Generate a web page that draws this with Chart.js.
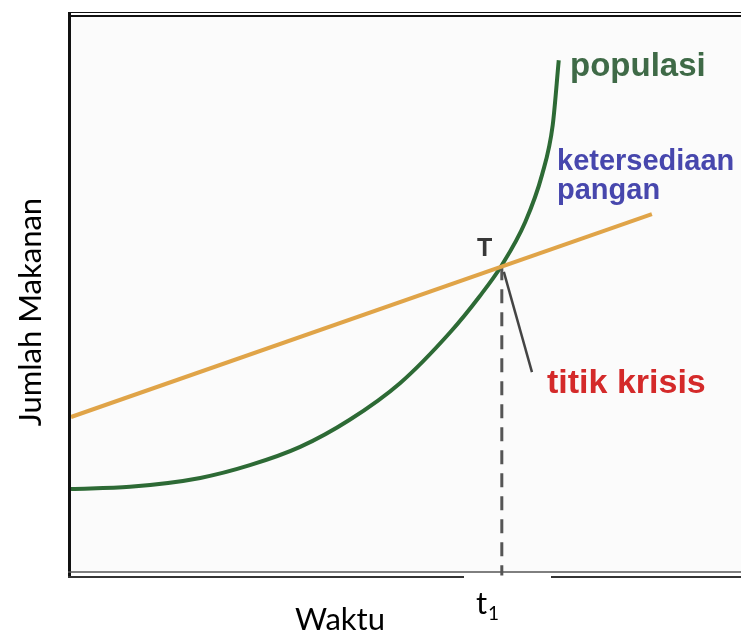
<!DOCTYPE html>
<html>
<head>
<meta charset="utf-8">
<script src="https://cdn.jsdelivr.net/npm/chart.js@4"></script>
<style>
  html, body { margin: 0; padding: 0; background: #fff; }
  #wrap { width: 741px; height: 637px; }
</style>
</head>
<body>
<div id="wrap"><canvas id="chart" width="741" height="637"></canvas></div>
<script>
// kurva populasi (waktu, jumlah)
const popX = [0, 8.8, 19.3, 26.7, 34.2, 41.6, 49.1, 56.6, 61.0, 64.3, 67.8, 70.3, 71.9, 72.8];
const popY = [14.8, 15.2, 16.8, 19.1, 22.4, 27.3, 33.9, 43.1, 49.6, 55.2, 63.0, 71.5, 80.5, 92.2];

// ketersediaan pangan (garis lurus)
const foodX = [0, 86.7];
const foodY = [27.8, 64.4];

// titik krisis T dan garis penunjuk
const crisisX = [64.3, 64.3];
const crisisY = [55, -0.8];
const pointerX = [64.6, 68.8];
const pointerY = [54, 35.9];

const toPoints = (xs, ys) => xs.map((x, i) => ({x: x, y: ys[i]}));

// gambar bingkai, label dan judul sumbu
const decor = {
  id: 'decor',
  beforeDraw(chart) {
    const {ctx, chartArea: a} = chart;
    ctx.save();
    ctx.fillStyle = '#fbfbfb';
    ctx.fillRect(a.left, a.top, a.right - a.left, a.bottom - a.top);
    ctx.restore();
  },
  afterDatasetsDraw(chart) {
    const {ctx} = chart;
    ctx.save();
    // bingkai atas
    ctx.strokeStyle = '#111';
    ctx.lineWidth = 1;
    ctx.beginPath(); ctx.moveTo(69, 12.5); ctx.lineTo(741, 12.5); ctx.stroke();
    ctx.lineWidth = 2;
    ctx.beginPath(); ctx.moveTo(69, 16); ctx.lineTo(741, 16); ctx.stroke();
    // sumbu kiri
    ctx.lineWidth = 3;
    ctx.beginPath(); ctx.moveTo(69.5, 12); ctx.lineTo(69.5, 578); ctx.stroke();
    // sumbu bawah (dua garis)
    ctx.strokeStyle = '#555';
    ctx.lineWidth = 1.5;
    ctx.beginPath(); ctx.moveTo(68, 572); ctx.lineTo(741, 572); ctx.stroke();
    ctx.strokeStyle = '#333';
    ctx.lineWidth = 2;
    ctx.beginPath(); ctx.moveTo(68, 577); ctx.lineTo(464, 577); ctx.moveTo(551, 577); ctx.lineTo(741, 577); ctx.stroke();

    // label kurva
    ctx.textBaseline = 'alphabetic';
    ctx.textAlign = 'left';
    ctx.fillStyle = '#3f6a47';
    ctx.font = 'bold 33px "Liberation Sans", Arial, sans-serif';
    ctx.fillText('populasi', 570, 76);
    ctx.fillStyle = '#4747ad';
    ctx.font = 'bold 29px "Liberation Sans", Arial, sans-serif';
    ctx.fillText('ketersediaan', 557, 170);
    ctx.fillText('pangan', 557, 199);
    ctx.fillStyle = '#383838';
    ctx.font = 'bold 25px "Liberation Sans", Arial, sans-serif';
    ctx.fillText('T', 477, 256);
    ctx.fillStyle = '#d42a2a';
    ctx.font = 'bold 34px "Liberation Sans", Arial, sans-serif';
    ctx.fillText('titik krisis', 547, 393);

    // judul sumbu
    ctx.fillStyle = '#000';
    ctx.font = '31px Lato, "Open Sans", sans-serif';
    ctx.textAlign = 'center';
    ctx.fillText('Waktu', 340, 630);
    ctx.textAlign = 'left';
    ctx.fillText('t', 476, 614);
    ctx.font = '19px Lato, "Open Sans", sans-serif';
    ctx.fillText('1', 488, 620);

    ctx.translate(41, 312);
    ctx.rotate(-Math.PI / 2);
    ctx.textAlign = 'center';
    ctx.font = '31px Lato, "Open Sans", sans-serif';
    ctx.fillText('Jumlah Makanan', 0, 0);
    ctx.restore();
  }
};

new Chart(document.getElementById('chart'), {
  type: 'scatter',
  data: {
    datasets: [
      {
        data: toPoints(foodX, foodY),
        showLine: true,
        borderColor: '#e0a448',
        borderWidth: 4,
        pointRadius: 0
      },
      {
        data: toPoints(crisisX, crisisY),
        showLine: true,
        borderColor: '#555',
        borderWidth: 3,
        borderDash: [14, 9],
        pointRadius: 0
      },
      {
        data: toPoints(popX, popY),
        showLine: true,
        borderColor: '#2d6a35',
        borderWidth: 4,
        cubicInterpolationMode: 'monotone',
        pointRadius: 0
      },
      {
        data: toPoints(pointerX, pointerY),
        showLine: true,
        borderColor: '#444',
        borderWidth: 2.5,
        pointRadius: 0
      }
    ]
  },
  options: {
    responsive: false,
    animation: false,
    clip: false,
    layout: { padding: { left: 71, top: 17, right: 0, bottom: 66 } },
    plugins: { legend: { display: false }, tooltip: { enabled: false } },
    scales: {
      x: { type: 'linear', min: 0, max: 100, display: false },
      y: { type: 'linear', min: 0, max: 100, display: false }
    }
  },
  plugins: [decor]
});
</script>
</body>
</html>
